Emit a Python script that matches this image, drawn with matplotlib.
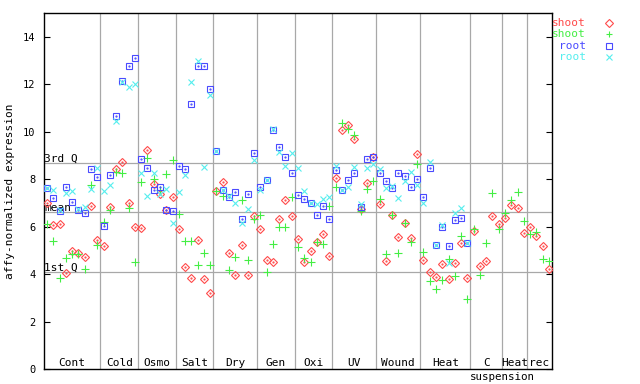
import numpy as np
import matplotlib
matplotlib.use("Agg")
import matplotlib.pyplot as plt
from matplotlib.lines import Line2D

nan = np.nan

groups = ["Cont", "Cold", "Osmo", "Salt", "Dry", "Gen", "Oxi", "UV",
          "Wound", "Heat", "C", "Heat", "rec"]
group_sizes = [9, 6, 6, 6, 7, 6, 6, 7, 7, 8, 5, 4, 4]

shoot_red = [6.99, 6.07, 6.12, 4.03, 4.98, 4.88, 4.71, 6.87, 5.44,
             5.19, 6.85, 8.42, 8.72, 6.99, 5.98,
             5.93, 9.22, 7.79, 7.37, 6.72, 7.24,
             5.89, 4.29, 3.82, 5.43, 3.78, 3.19,
             7.49, 7.87, 4.88, 3.95, 5.22, 3.95, 6.45,
             5.89, 4.58, 4.50, 6.31, 7.11, 6.44,
             5.47, 4.53, 4.96, 5.34, 5.68, 4.75,
             8.04, 10.06, 10.28, 9.69, 6.75, 7.83, 8.93,
             6.94, 4.54, 6.48, 5.58, 6.14, 5.51, 9.05,
             4.58, 4.08, 3.86, 4.41, 3.78, 4.45, 5.30, 3.82,
             5.80, 4.33, 4.54, 6.44, 6.10,
             6.36, 6.90, 6.78, 5.72,
             5.98, 5.60, 5.17, 4.20]

shoot_green = [6.12, 5.38, 3.82, 4.67, 4.84, 4.84, 4.20, 7.75, 5.22,
               6.20, 6.71, 8.32, 8.25, 6.78, 4.53,
               7.87, 8.89, 8.00, 7.54, 8.21, 8.80,
               6.52, 5.38, 5.38, 4.37, 4.89, 4.37,
               7.49, 7.30, 4.16, 4.71, 7.13, 4.60, 6.31,
               6.48, 4.08, 5.26, 5.97, 5.97, 7.24,
               5.13, 4.67, 4.50, 5.34, 5.26, 6.86,
               7.66, 10.36, 10.11, 9.85, 6.65, 7.58, 7.93,
               7.16, 4.84, 6.48, 4.88, 6.14, 5.34, 8.63,
               4.93, 3.69, 3.36, 3.75, 4.64, 3.91, 5.60, 2.94,
               5.89, 3.95, 5.30, 7.41, 5.89,
               6.57, 7.11, 7.45, 6.23,
               5.68, 5.77, 4.63, 4.54]

root_blue = [7.62, 7.21, 6.65, 7.66, 7.04, 6.71, 6.57, 8.42, 8.08,
             6.03, 8.17, 10.66, 12.16, 12.77, 13.10,
             8.84, 8.46, 7.54, 7.66, 6.69, 6.65,
             8.55, 8.42, 11.16, 12.77, 12.77, 11.79,
             9.19, 7.54, 7.24, 7.45, 6.31, 7.37, 9.09,
             7.66, 7.95, 10.08, 9.35, 8.93, 8.25,
             7.33, 7.16, 6.99, 6.48, 6.86, 6.31,
             8.38, 7.56, 7.95, 8.25, 6.82, 8.84, 8.93,
             8.25, 7.91, 7.62, 8.25, 8.12, 7.66, 8.00,
             7.27, 8.46, 5.22, 5.98, 5.17, 6.27, 6.36, 5.30,
             nan, nan, nan, nan, nan,
             nan, nan, nan, nan,
             nan, nan, nan, nan]

root_cyan = [7.62, 7.55, 6.70, 7.44, 7.52, 6.75, 6.82, 7.58, 8.46,
             7.52, 7.75, 10.45, 12.10, 11.88, 12.02,
             8.25, 7.28, 8.25, 7.40, 7.58, 6.14,
             7.45, 8.17, 12.09, 12.98, 8.50, 11.54,
             9.19, 7.55, 7.28, 6.99, 6.14, 6.73, 8.81,
             7.55, 7.95, 10.14, 9.16, 8.56, 9.09,
             8.46, 7.49, 6.99, 6.94, 7.16, 7.24,
             8.58, 7.56, 7.66, 8.50, 6.95, 8.46, 8.65,
             8.42, 7.62, 7.70, 7.20, 7.91, 8.29, 7.75,
             6.99, 8.75, 5.25, 6.09, 4.45, 6.57, 6.78, 5.30,
             nan, nan, nan, nan, nan,
             nan, nan, nan, nan,
             nan, nan, nan, nan]

q3_value = 8.69
mean_value = 6.62
q1_value = 4.09

RED = "#ff4a4a"
GREEN = "#44ee44"
BLUE = "#4a4aff"
CYAN = "#55eeee"
GRID = "#a8a8a8"
FONT = "DejaVu Sans Mono"

fig = plt.figure(figsize=(6.4, 3.84), dpi=100)
ax = fig.add_axes([44 / 640, 15 / 384, 508 / 640, 355.7 / 384])

n = len(shoot_red)
x = np.arange(n) + 0.5
ax.set_xlim(0, n)
ax.set_ylim(0, 15)

bounds = np.cumsum(group_sizes)
for b in bounds[:-1]:
    ax.axvline(b, color=GRID, lw=0.9, zorder=1)
for v in (q3_value, mean_value, q1_value):
    ax.axhline(v, color=GRID, lw=0.9, zorder=1)

ax.text(0.05, q3_value + 0.04, "3rd Q", fontsize=8, family=FONT, va="baseline", ha="left", zorder=2)
ax.text(0.05, mean_value + 0.04, "mean", fontsize=8, family=FONT, va="baseline", ha="left", zorder=2)
ax.text(0.05, q1_value + 0.04, "1st Q", fontsize=8, family=FONT, va="baseline", ha="left", zorder=2)

starts = np.concatenate([[0], bounds[:-1]])
for g, s, c in zip(groups, starts, group_sizes):
    ax.text(s + c / 2, 0.05, g, fontsize=8, family=FONT, ha="center", va="bottom", zorder=2)
fig.text(502 / 640, 1 - 377.5 / 384, "suspension", fontsize=7.8, family=FONT,
         ha="center", va="center")

mew = 0.8
ax.plot(x, shoot_red, ls="none", marker="D", ms=3.6, mfc="none", mec=RED, mew=mew, zorder=3)
ax.plot(x, shoot_red, ls="none", marker=".", ms=1.2, color=RED, zorder=3)
ax.plot(x, shoot_green, ls="none", marker="+", ms=5.5, color=GREEN, mew=mew, zorder=4)
ax.plot(x, root_blue, ls="none", marker="s", ms=4.6, mfc="none", mec=BLUE, mew=mew, zorder=5)
ax.plot(x, root_blue, ls="none", marker=".", ms=1.2, color=BLUE, zorder=5)
ax.plot(x, root_cyan, ls="none", marker="x", ms=4.2, color=CYAN, mew=mew, zorder=6)

ax.set_xticks([])
ax.set_yticks(np.arange(0, 15, 2))
ax.tick_params(axis="y", direction="in", length=4, width=0.8, labelsize=7.5, pad=6,
               right=True, left=True)
for lab in ax.get_yticklabels():
    lab.set_family(FONT)
ax.set_ylabel("affy-normalized expression", fontsize=8, family=FONT, labelpad=6)
for sp in ax.spines.values():
    sp.set_linewidth(1.0)
    sp.set_color("black")

# legend
legend_entries = [("shoot", RED, "D"), ("shoot", GREEN, "+"), ("root", BLUE, "s"), ("root", CYAN, "x")]
ys = [23.3, 34.4, 45.6, 56.7]
for (lab, col, mk), yp in zip(legend_entries, ys):
    yf = 1 - yp / 384
    fig.text(586 / 640, yf, lab, color=col, fontsize=8, family=FONT, ha="right", va="center")
    if mk == "D":
        fig.add_artist(Line2D([609 / 640], [yf], transform=fig.transFigure, marker="D", ms=3.6,
                              mfc="none", mec=col, mew=mew, ls="none"))
    elif mk == "s":
        fig.add_artist(Line2D([609 / 640], [yf], transform=fig.transFigure, marker="s", ms=4.6,
                              mfc="none", mec=col, mew=mew, ls="none"))
    else:
        fig.add_artist(Line2D([609 / 640], [yf], transform=fig.transFigure, marker=mk, ms=5,
                              color=col, mew=mew, ls="none"))

fig.savefig("out.png", dpi=100)
